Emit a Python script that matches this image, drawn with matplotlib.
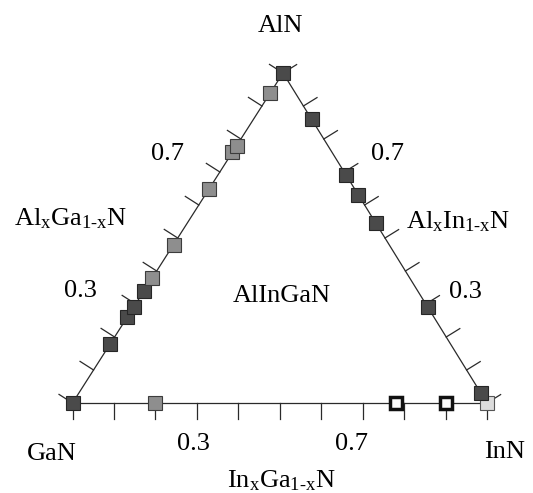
import numpy as np
import matplotlib
matplotlib.use("Agg")
import matplotlib.pyplot as plt

plt.rcParams['font.family'] = ['Liberation Serif', 'DejaVu Serif']
plt.rcParams['mathtext.fontset'] = 'custom'
plt.rcParams['mathtext.rm'] = 'Liberation Serif'
plt.rcParams['mathtext.it'] = 'Liberation Serif'

# --- data (compositions) ---
# AlxGa1-xN edge: Al fraction
algan_al = [0.0, 0.18, 0.26, 0.29, 0.34, 0.38, 0.48, 0.65, 0.76, 0.78, 0.94, 1.0]
algan_shade = ['dark', 'dark', 'dark', 'dark', 'dark', 'mid', 'mid', 'mid', 'mid', 'mid', 'mid', 'dark']
# AlxIn1-xN edge: Al fraction
alin_al = [0.86, 0.69, 0.63, 0.545, 0.29, 0.03]
alin_shade = ['dark'] * 6
# InxGa1-xN edge: In fraction
ingan_in = [0.2, 0.78, 0.9, 1.0]
ingan_shade = ['mid', 'open', 'open', 'light']

tick_vals = np.linspace(0, 1, 11)
corner_labels = ['GaN', 'InN', 'AlN']
edge_labels = [r'Al$_\mathrm{x}$Ga$_\text{1-x}$N',
               r'Al$_\mathrm{x}$In$_\text{1-x}$N',
               r'In$_\mathrm{x}$Ga$_\text{1-x}$N']

# triangle corners in pixel space (layout)
P_GaN = np.array([72.5, 403.0])
P_InN = np.array([487.0, 403.0])
P_AlN = np.array([283.0, 73.0])
centroid = (P_GaN + P_InN + P_AlN) / 3


def tern(al, inn):
    ga = 1 - al - inn
    return al * P_AlN + inn * P_InN + ga * P_GaN


styles = {
    'dark': dict(mfc='#4a4a4a', mec='#262626', mew=0.8, ms=10.2),
    'mid': dict(mfc='#8e8e8e', mec='#3c3c3c', mew=0.8, ms=10.2),
    'light': dict(mfc='#dcdcdc', mec='#555555', mew=0.8, ms=10.2),
    'open': dict(mfc='white', mec='#111111', mew=2.5, ms=8.4),
}

fig = plt.figure(figsize=(5.33, 4.93), dpi=100)
ax = fig.add_axes([0, 0, 1, 1])
ax.set_xlim(0, 533)
ax.set_ylim(493, 0)
ax.axis('off')

# edges + ticks
edges = [(P_GaN, P_AlN), (P_InN, P_AlN), (P_GaN, P_InN)]
for a, b in edges:
    ax.plot([a[0], b[0]], [a[1], b[1]], color='#2a2a2a', lw=0.9, zorder=1)
    d = (b - a) / np.linalg.norm(b - a)
    n = np.array([-d[1], d[0]])
    mid = (a + b) / 2
    if np.dot(n, mid - centroid) < 0:
        n = -n
    for t in tick_vals:
        p = a + t * (b - a)
        q = p + 16 * n
        ax.plot([p[0], q[0]], [p[1], q[1]], color='#2a2a2a', lw=0.9, zorder=1)

# markers
for al, sh in zip(algan_al, algan_shade):
    x, y = tern(al, 0)
    ax.plot(x, y, 's', zorder=3, **styles[sh])
for al, sh in zip(alin_al, alin_shade):
    x, y = tern(al, 1 - al)
    ax.plot(x, y, 's', zorder=3, **styles[sh])
for inn, sh in zip(ingan_in, ingan_shade):
    x, y = tern(0, inn)
    ax.plot(x, y, 's', zorder=2 if sh == 'light' else 3, **styles[sh])

fs = 19
# corner labels
ax.text(52, 460, corner_labels[0], fontsize=fs, ha='center', va='baseline')
ax.text(505, 458, corner_labels[1], fontsize=fs, ha='center', va='baseline')
ax.text(280, 32, corner_labels[2], fontsize=fs, ha='center', va='baseline')

# edge labels
ax.text(71, 225, edge_labels[0], fontsize=fs, ha='center', va='baseline')
ax.text(458, 228, edge_labels[1], fontsize=fs, ha='center', va='baseline')
ax.text(281, 487, edge_labels[2], fontsize=fs, ha='center', va='baseline')
ax.text(282, 302, 'AlInGaN', fontsize=fs, ha='center', va='baseline')

# tick value labels
ax.text(80, 297, '0.3', fontsize=fs, ha='center', va='baseline')
ax.text(167, 160, '0.7', fontsize=fs, ha='center', va='baseline')
ax.text(388, 160, '0.7', fontsize=fs, ha='center', va='baseline')
ax.text(465, 298, '0.3', fontsize=fs, ha='center', va='baseline')
ax.text(193, 450, '0.3', fontsize=fs, ha='center', va='baseline')
ax.text(352, 450, '0.7', fontsize=fs, ha='center', va='baseline')

fig.savefig('out.png', dpi=100, facecolor='white')
